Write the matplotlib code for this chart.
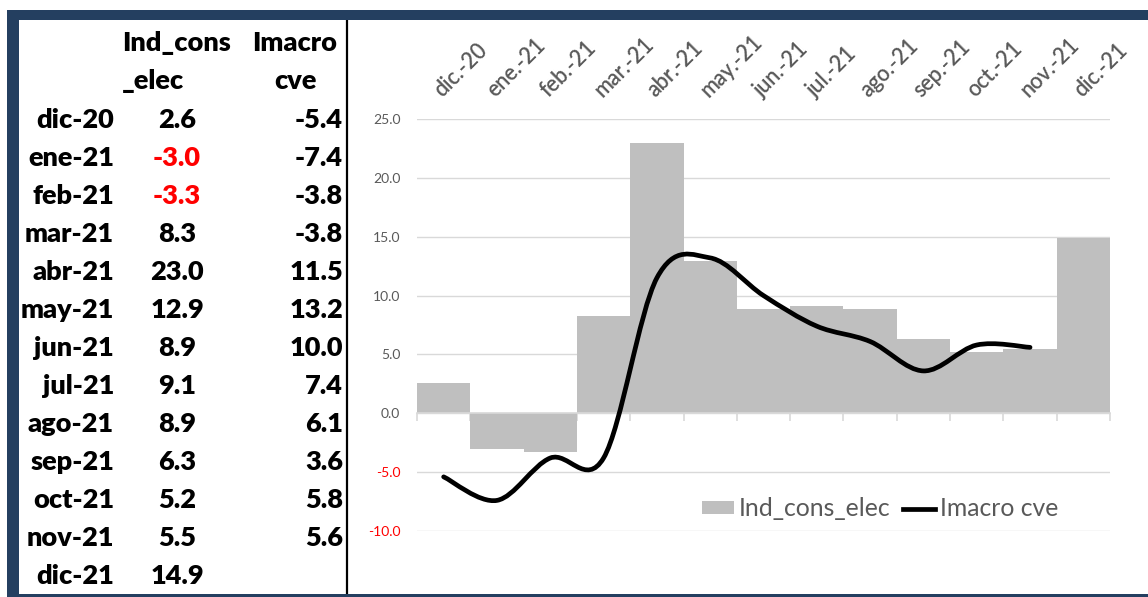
import numpy as np
import matplotlib
matplotlib.use("Agg")
import matplotlib.pyplot as plt
from matplotlib.path import Path
from matplotlib.patches import PathPatch, Rectangle
from matplotlib.lines import Line2D
from matplotlib.patches import Patch

# ---------------- data ----------------
row_labels = ["dic-20", "ene-21", "feb-21", "mar-21", "abr-21", "may-21", "jun-21",
              "jul-21", "ago-21", "sep-21", "oct-21", "nov-21", "dic-21"]
axis_labels = ["dic.-20", "ene.-21", "feb.-21", "mar.-21", "abr.-21", "may.-21", "jun.-21",
               "jul.-21", "ago.-21", "sep.-21", "oct.-21", "nov.-21", "dic.-21"]
ind_cons_elec = [2.6, -3.0, -3.3, 8.3, 23.0, 12.9, 8.9, 9.1, 8.9, 6.3, 5.2, 5.5, 14.9]
imacro_cve = [-5.4, -7.4, -3.8, -3.8, 11.5, 13.2, 10.0, 7.4, 6.1, 3.6, 5.8, 5.6]
y_ticks = [-10, -5, 0, 5, 10, 15, 20, 25]

W, H = 1148, 597
NAVY = "#243f60"
GREY_TXT = "#595959"
GRID = "#d9d9d9"
BAR = "#bfbfbf"
FONT = "Lato"

def fx(px):
    return px / W

def fy(py):
    return 1 - py / H

fig = plt.figure(figsize=(W / 100, H / 100), dpi=100)
fig.patch.set_facecolor("white")

# ---------------- frame ----------------
fig.patches.append(Rectangle((fx(7), fy(20)), 1 - fx(7), 10 / H, transform=fig.transFigure,
                             facecolor=NAVY, edgecolor="none", zorder=5))
fig.patches.append(Rectangle((fx(7), 0), 12 / W, fy(10), transform=fig.transFigure,
                             facecolor=NAVY, edgecolor="none", zorder=5))
fig.patches.append(Rectangle((fx(7), 0), 1 - fx(7), 3 / H, transform=fig.transFigure,
                             facecolor=NAVY, edgecolor="none", zorder=5))
fig.add_artist(Line2D([fx(347), fx(347)], [fy(594), fy(20)], transform=fig.transFigure,
                      color="black", lw=1.6))

# ---------------- table ----------------
tsize = 19.5
tw = "heavy"
fig.text(fx(122), fy(43), "Ind_cons", ha="left", va="center", fontsize=tsize,
         fontweight=tw, family=FONT)
fig.text(fx(122), fy(81), "_elec", ha="left", va="center", fontsize=tsize,
         fontweight=tw, family=FONT)
fig.text(fx(295), fy(43), "Imacro", ha="center", va="center", fontsize=tsize,
         fontweight=tw, family=FONT)
fig.text(fx(295), fy(81), "cve", ha="center", va="center", fontsize=tsize,
         fontweight=tw, family=FONT)
for i, lab in enumerate(row_labels):
    yy = fy(120 + 38 * i)
    fig.text(fx(114), yy, lab, ha="right", va="center", fontsize=tsize,
             fontweight=tw, family=FONT)
    v = ind_cons_elec[i]
    fig.text(fx(177), yy, f"{v:.1f}", ha="center", va="center", fontsize=tsize,
             fontweight=tw, family=FONT, color="#ff0000" if v < 0 else "black")
    if i < len(imacro_cve):
        fig.text(fx(343), yy, f"{imacro_cve[i]:.1f}", ha="right", va="center",
                 fontsize=tsize, fontweight=tw, family=FONT)

# ---------------- chart ----------------
ax = fig.add_axes([fx(417), fy(531), (1110 - 417) / W, (531 - 119) / H])
x = np.arange(len(ind_cons_elec))
ax.bar(x, ind_cons_elec, width=1.0, color=BAR, zorder=2, label="Ind_cons_elec")

# smoothed line (Excel-like Bezier smoothing)
pts = np.column_stack([np.arange(len(imacro_cve)), imacro_cve]).astype(float)
verts = [tuple(pts[0])]
codes = [Path.MOVETO]
n = len(pts)
for i in range(n - 1):
    p0 = pts[i - 1] if i > 0 else pts[i]
    p1 = pts[i]
    p2 = pts[i + 1]
    p3 = pts[i + 2] if i + 2 < n else pts[i + 1]
    c1 = p1 + (p2 - p0) / 6.0
    c2 = p2 - (p3 - p1) / 6.0
    verts += [tuple(c1), tuple(c2), tuple(p2)]
    codes += [Path.CURVE4] * 3
ax.add_patch(PathPatch(Path(verts, codes), facecolor="none", edgecolor="black",
                       lw=3.4, capstyle="round", joinstyle="round", zorder=4))

ax.set_xlim(-0.5, len(x) - 0.5)
ax.set_ylim(-10, 25)
ax.set_yticks(y_ticks)
ax.set_yticklabels([f"{t:.1f}" for t in y_ticks], family=FONT, fontsize=10)
for t, lab in zip(y_ticks, ax.get_yticklabels()):
    lab.set_color("#ff0000" if t < 0 else GREY_TXT)
ax.tick_params(axis="y", length=0, pad=12)
ax.grid(axis="y", color=GRID, lw=1, zorder=0)
ax.set_axisbelow(True)
for s in ["left", "right", "top"]:
    ax.spines[s].set_visible(False)
ax.spines["bottom"].set_position(("data", 0))
ax.spines["bottom"].set_color(GRID)
ax.spines["bottom"].set_linewidth(1.2)
ax.spines["bottom"].set_zorder(3)
ax.set_xticks(np.arange(-0.5, len(x), 1.0))
ax.set_xticklabels([])
ax.tick_params(axis="x", length=6, color=GRID, width=1.2, direction="out")

for i, lab in enumerate(axis_labels):
    ax.annotate(lab, xy=(i, 1), xycoords=("data", "axes fraction"), xytext=(-1, 15),
                textcoords="offset points", rotation=45, rotation_mode="anchor",
                ha="left", va="baseline", fontsize=15.5, color=GREY_TXT, family=FONT,
                fontweight="semibold", annotation_clip=False)

handles = [Patch(facecolor=BAR, edgecolor="none"),
           Line2D([0], [0], color="black", lw=3.4)]
ax.legend(handles, ["Ind_cons_elec", "Imacro cve"], loc="center left",
          bbox_to_anchor=(fx(702), fy(509)), bbox_transform=fig.transFigure,
          frameon=False, ncol=2, prop={"family": FONT, "size": 17.8},
          labelcolor=GREY_TXT, handlelength=1.3, handleheight=0.45,
          handletextpad=0.2, columnspacing=0.5, borderpad=0, borderaxespad=0)

fig.savefig("out.png", dpi=100)
